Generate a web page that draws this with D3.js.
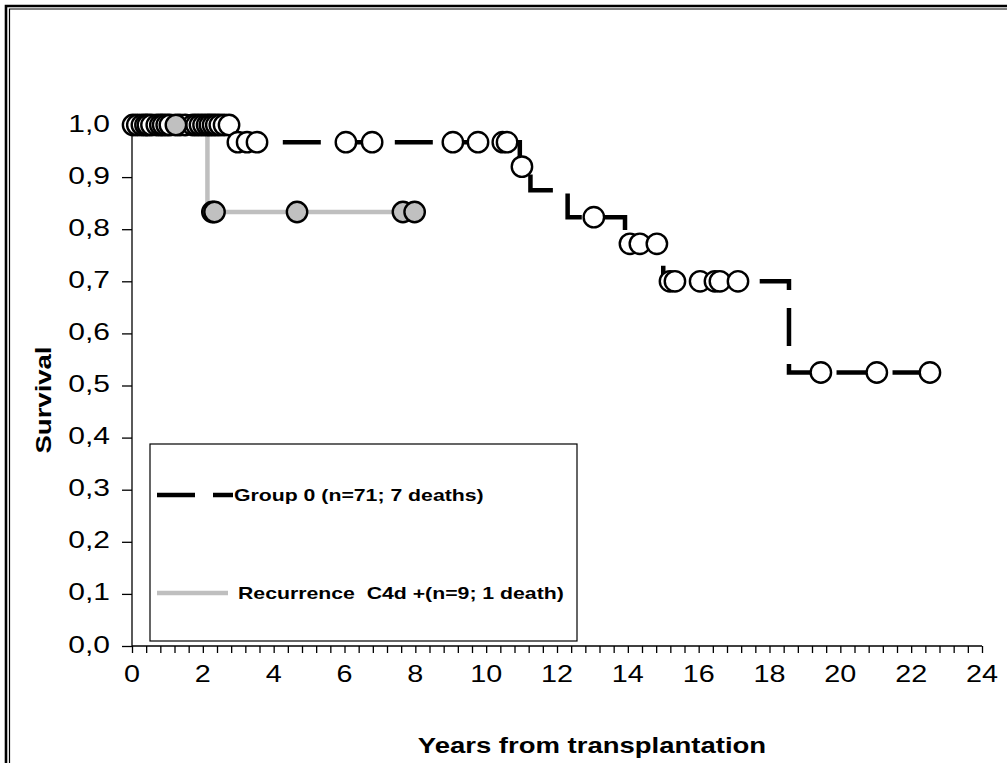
<!DOCTYPE html>
<html>
<head>
<meta charset="utf-8">
<script src="https://cdn.jsdelivr.net/npm/d3@7/dist/d3.min.js"></script>
<style>
  html, body { margin: 0; padding: 0; background: #fff; }
  svg { display: block; }
  text { font-family: "Liberation Sans", Arial, sans-serif; fill: #000; }
</style>
</head>
<body>
<svg id="chart" width="1007" height="763"></svg>
<script>
// Kaplan-Meier step data, group 0 (n=71; 7 deaths)
const group0StepTimes = [0, 2.75, 10.95, 11.25, 12.3, 13.92, 15.0, 18.55];
const group0StepSurv  = [1.0, 0.967, 0.92, 0.875, 0.823, 0.772, 0.70, 0.525];
const group0EndTime = 22.53;
const group0Censored = [0.03, 0.15, 0.28, 0.38, 0.45, 0.55, 0.7, 0.8, 0.88, 0.98, 1.07,
  1.35, 1.5, 1.72, 1.82, 1.92, 2.02, 2.12, 2.2, 2.29, 2.38, 2.48, 2.6, 2.74,
  2.99, 3.25, 3.53, 6.04, 6.78, 9.06, 9.77, 10.47, 10.59,
  11.01, 13.04, 14.06, 14.34, 14.82,
  15.19, 15.33, 16.04, 16.46, 16.6, 17.11,
  19.45, 21.03, 22.53];

// Recurrence C4d + (n=9; 1 death)
const c4dStepTimes = [0, 2.13];
const c4dStepSurv  = [1.0, 0.833];
const c4dEndTime = 7.98;
const c4dCensored = [1.24, 2.27, 2.33, 4.66, 7.65, 7.98];

// Axis ticks and labels
const xMajorTicks = [0, 2, 4, 6, 8, 10, 12, 14, 16, 18, 20, 22, 24];
const xMinorTicks = d3.range(0, 24.001, 0.4);
const yTicks = [0, 0.1, 0.2, 0.3, 0.4, 0.5, 0.6, 0.7, 0.8, 0.9, 1.0];
const yTickLabels = ["0,0", "0,1", "0,2", "0,3", "0,4", "0,5", "0,6", "0,7", "0,8", "0,9", "1,0"];

const legendLabels = ["Group 0 (n=71; 7 deaths)", "Recurrence  C4d +(n=9; 1 death)"];

const svg = d3.select("#chart");
const W = 1007, H = 763;
const TEXT_STRETCH = 1.25;

// Outer double frame
svg.append("path").attr("d", `M6,${H} V6 H${W}`)
  .attr("fill", "none").attr("stroke", "#000").attr("stroke-width", 2.6);
svg.append("path").attr("d", `M9.5,${H} V9 H${W}`)
  .attr("fill", "none").attr("stroke", "#000").attr("stroke-width", 1.2);

const x = d3.scaleLinear().domain([0, 24]).range([132, 982]);
const y = d3.scaleLinear().domain([0, 1]).range([646, 125]);

// X axis: minor ticks every 0.4 year, labels every 2 years
const xAxisG = svg.append("g").attr("transform", `translate(0,${y(0)})`);
xAxisG.call(d3.axisBottom(x).tickValues(xMinorTicks).tickSize(7).tickFormat(""));
xAxisG.select(".domain").attr("d", `M${x(0)},0H${x(24)}`);
xAxisG.selectAll("line, path").attr("stroke", "#000").attr("stroke-width", 1.3);

const xLabelG = svg.append("g").attr("transform", `translate(0,${y(0)})`);
xLabelG.selectAll("text").data(xMajorTicks).join("text")
  .attr("transform", d => `translate(${x(d)},36) scale(${TEXT_STRETCH},1)`)
  .attr("text-anchor", "middle")
  .style("font-size", "23px")
  .text(d => String(d));

// Y axis
const yAxisG = svg.append("g").attr("transform", `translate(${x(0)},0)`);
yAxisG.call(d3.axisLeft(y).tickValues(yTicks).tickSize(10)
  .tickFormat((d, i) => yTickLabels[i]));
yAxisG.select(".domain").attr("d", `M0,${y(1)}V${y(0)}`);
yAxisG.selectAll("line, path").attr("stroke", "#000").attr("stroke-width", 1.3);
yAxisG.selectAll(".tick text")
  .attr("x", 0).attr("dy", "0.25em")
  .attr("transform", `translate(-22,0) scale(${TEXT_STRETCH},1)`)
  .attr("fill", "#000")
  .style("font-size", "24px")
  .style("font-family", "'Liberation Sans', Arial, sans-serif");

// Axis titles
svg.append("text")
  .attr("transform", `translate(592,753) scale(${TEXT_STRETCH},1)`)
  .attr("text-anchor", "middle")
  .style("font-size", "22px").style("font-weight", "bold")
  .text("Years from transplantation");
svg.append("text")
  .attr("transform", `translate(51,400) rotate(-90) scale(${TEXT_STRETCH},1)`)
  .attr("text-anchor", "middle")
  .style("font-size", "22px").style("font-weight", "bold")
  .text("Survival");

// Survival curves
const line = d3.line().x(d => x(d[0])).y(d => y(d[1])).curve(d3.curveStepAfter);
const toPoints = (times, surv, end) =>
  times.map((t, i) => [t, surv[i]]).concat([[end, surv[surv.length - 1]]]);
const survAt = (times, surv, t) => surv[Math.max(0, d3.bisectRight(times, t) - 1)];

svg.append("path")
  .datum(toPoints(c4dStepTimes, c4dStepSurv, c4dEndTime))
  .attr("d", line).attr("fill", "none")
  .attr("stroke", "#bfbfbf").attr("stroke-width", 4.5);

svg.append("path")
  .datum(toPoints(group0StepTimes, group0StepSurv, group0EndTime))
  .attr("d", line).attr("fill", "none")
  .attr("stroke", "#000").attr("stroke-width", 4.5)
  .attr("stroke-dasharray", "38,18");

// Censoring marks
svg.append("g").selectAll("circle").data(group0Censored).join("circle")
  .attr("cx", d => x(d))
  .attr("cy", d => y(survAt(group0StepTimes, group0StepSurv, d)))
  .attr("r", 10.2)
  .attr("fill", "#fff").attr("stroke", "#000").attr("stroke-width", 2.4);

svg.append("g").selectAll("circle").data(c4dCensored).join("circle")
  .attr("cx", d => x(d))
  .attr("cy", d => y(survAt(c4dStepTimes, c4dStepSurv, d)))
  .attr("r", 10.2)
  .attr("fill", "#c0c0c0").attr("stroke", "#000").attr("stroke-width", 2.4);

// Legend
svg.append("rect").attr("x", 150).attr("y", 444).attr("width", 427).attr("height", 197)
  .attr("fill", "#fff").attr("stroke", "#000").attr("stroke-width", 1.2);
svg.append("line").attr("x1", 157).attr("x2", 233).attr("y1", 495).attr("y2", 495)
  .attr("stroke", "#000").attr("stroke-width", 4.5).attr("stroke-dasharray", "38,18");
svg.append("line").attr("x1", 157).attr("x2", 228).attr("y1", 593).attr("y2", 593)
  .attr("stroke", "#bfbfbf").attr("stroke-width", 4.5);
svg.selectAll(".legend-label").data(legendLabels).join("text")
  .attr("class", "legend-label")
  .attr("transform", (d, i) => `translate(${i === 0 ? 234 : 238},${i === 0 ? 501 : 599}) scale(${TEXT_STRETCH},1)`)
  .style("font-size", "17px")
  .style("font-weight", "bold")
  .style("white-space", "pre")
  .attr("xml:space", "preserve")
  .text(d => d);
</script>
</body>
</html>
